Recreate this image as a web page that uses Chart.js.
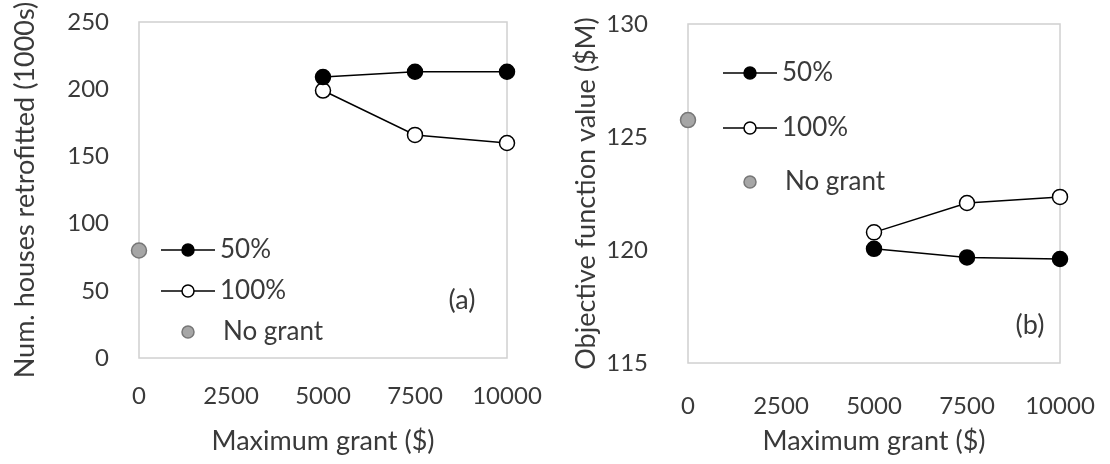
<!DOCTYPE html>
<html>
<head>
<meta charset="utf-8">
<script src="https://cdn.jsdelivr.net/npm/chart.js@4"></script>
<style>
body { margin: 0; background: #fff; }
.wrap { position: absolute; top: 0; width: 555px; height: 464px; }
</style>
</head>
<body>
<div class="wrap" style="left:0"><canvas id="chartA"></canvas></div>
<div class="wrap" style="left:555px"><canvas id="chartB"></canvas></div>
<script>
// values
const grants = [5000, 7500, 10000];
const noGrantX = [0];
const housesHalf = [209, 213, 213];
const housesFull = [199, 166, 160];
const housesNoGrant = [80];
const objHalf = [120.05, 119.67, 119.6];
const objFull = [120.78, 122.08, 122.35];
const objNoGrant = [125.75];
const seriesLabels = ['50%', '100%', 'No grant'];
const xTicks = [0, 2500, 5000, 7500, 10000];

const FONT = 'Lato, "Open Sans", sans-serif';
const TEXT = '#3a3a3a';

function pts(xs, ys) {
    return xs.map((x, i) => ({ x: x, y: ys[i] }));
}

function makeDatasets(half, full, none) {
    return [
        { label: seriesLabels[0], data: pts(grants, half), showLine: true,
          borderColor: '#000', borderWidth: 1.5, pointBackgroundColor: '#000',
          pointBorderColor: '#000', pointBorderWidth: 1.5, pointRadius: 7.5, clip: false },
        { label: seriesLabels[1], data: pts(grants, full), showLine: true,
          borderColor: '#000', borderWidth: 1.5, pointBackgroundColor: '#fff',
          pointBorderColor: '#000', pointBorderWidth: 1.5, pointRadius: 7.5, clip: false },
        { label: seriesLabels[2], data: pts(noGrantX, none), showLine: false,
          borderColor: '#777', pointBackgroundColor: '#a6a6a6',
          pointBorderColor: '#777', pointBorderWidth: 1.5, pointRadius: 7.5, clip: false }
    ];
}

// frame round the plot area, legend inside it and the panel letter
const panelDeco = {
    id: 'panelDeco',
    beforeDatasetsDraw(chart, args, opts) {
        const a = chart.chartArea;
        const ctx = chart.ctx;
        ctx.save();
        ctx.strokeStyle = '#d0d0d0';
        ctx.lineWidth = 1.5;
        ctx.strokeRect(a.left, a.top, a.right - a.left, a.bottom - a.top);
        ctx.restore();
    },
    afterDraw(chart, args, opts) {
        const ctx = chart.ctx;
        ctx.save();
        ctx.font = '26px ' + FONT;
        ctx.textBaseline = 'middle';
        ctx.fillStyle = TEXT;
        chart.data.datasets.forEach((ds, i) => {
            const y = opts.rows[i];
            const x = opts.x;
            if (ds.showLine) {
                ctx.strokeStyle = ds.borderColor;
                ctx.lineWidth = ds.borderWidth;
                ctx.beginPath();
                ctx.moveTo(x - 27, y);
                ctx.lineTo(x + 27, y);
                ctx.stroke();
            }
            ctx.beginPath();
            ctx.arc(x, y, 6, 0, Math.PI * 2);
            ctx.fillStyle = ds.pointBackgroundColor;
            ctx.fill();
            ctx.lineWidth = 1.5;
            ctx.strokeStyle = ds.pointBorderColor;
            ctx.stroke();
            ctx.fillStyle = TEXT;
            ctx.fillText(ds.label, x + (ds.showLine ? 32 : 35), y);
        });
        ctx.font = '27px ' + FONT;
        ctx.textAlign = 'center';
        ctx.fillText(opts.tag, opts.tagX, opts.tagY);
        ctx.restore();
    }
};

function noPad(s) {
    s.paddingTop = 0;
    s.paddingBottom = 0;
    s.paddingLeft = 0;
    s.paddingRight = 0;
}

function makeChart(id, cfg) {
    return new Chart(document.getElementById(id), {
        type: 'scatter',
        data: { datasets: makeDatasets(cfg.half, cfg.full, cfg.none) },
        options: {
            responsive: true,
            maintainAspectRatio: false,
            animation: false,
            layout: { padding: { top: cfg.top, right: cfg.right, left: 0, bottom: 0 } },
            plugins: {
                legend: { display: false },
                tooltip: { enabled: false },
                panelDeco: cfg.deco
            },
            scales: {
                x: {
                    type: 'linear', min: 0, max: 10000,
                    afterBuildTicks: s => { s.ticks = xTicks.map(v => ({ value: v })); },
                    afterFit: s => { s.height = cfg.xh; noPad(s); },
                    grid: { display: false }, border: { display: false },
                    ticks: { padding: cfg.xpad, color: TEXT, font: { family: FONT, size: 24 },
                             callback: v => String(v) },
                    title: { display: true, text: 'Maximum grant ($)', color: TEXT,
                             padding: { top: 0, bottom: 7 }, font: { family: FONT, size: 27 } }
                },
                y: {
                    min: cfg.ymin, max: cfg.ymax,
                    afterFit: s => { s.width = cfg.yw; noPad(s); },
                    grid: { display: false }, border: { display: false },
                    ticks: { stepSize: cfg.step, padding: cfg.ypad, color: TEXT,
                             font: { family: FONT, size: 24 }, callback: v => String(v) },
                    title: { display: true, text: cfg.ytitle, color: TEXT,
                             padding: { top: cfg.ytp, bottom: 0 }, font: { family: FONT, size: 27 } }
                }
            }
        },
        plugins: [panelDeco]
    });
}

makeChart('chartA', {
    half: housesHalf, full: housesFull, none: housesNoGrant,
    ymin: 0, ymax: 250, step: 50,
    ytitle: 'Num. houses retrofitted (1000s)',
    top: 22, right: 48, yw: 139, xh: 106, xpad: 16, ypad: 22, ytp: 9,
    deco: { x: 188, rows: [250, 291, 332], tag: '(a)', tagX: 462, tagY: 300 }
});

makeChart('chartB', {
    half: objHalf, full: objFull, none: objNoGrant,
    ymin: 115, ymax: 130, step: 5,
    ytitle: 'Objective function value ($M)',
    top: 24, right: 50, yw: 133, xh: 101, xpad: 21, ypad: 32, ytp: 15,
    deco: { x: 195, rows: [73, 128, 182], tag: '(b)', tagX: 475, tagY: 325 }
});
</script>
</body>
</html>
